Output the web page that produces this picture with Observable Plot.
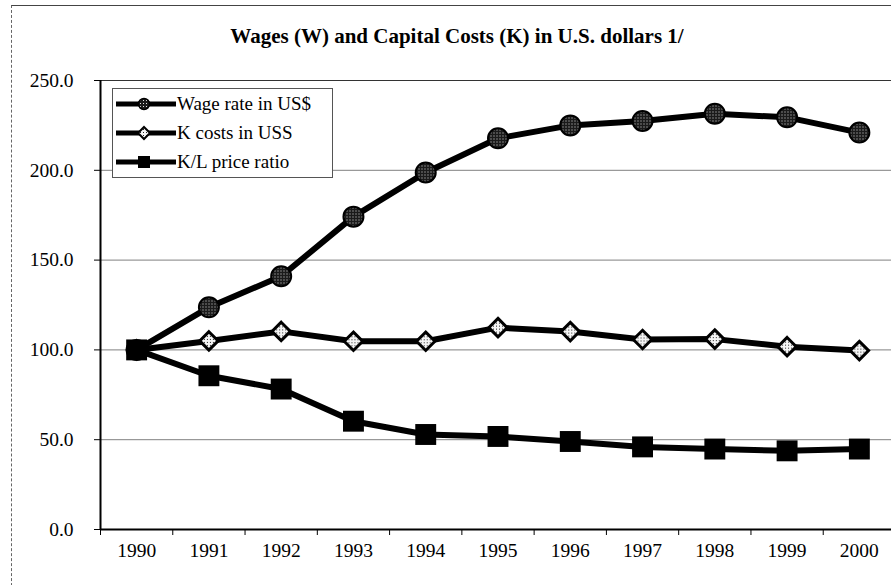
<!DOCTYPE html>
<html><head><meta charset="utf-8">
<script src="https://cdn.jsdelivr.net/npm/d3@7"></script>
<script src="https://cdn.jsdelivr.net/npm/@observablehq/plot@0.6"></script>
<style>
body{margin:0;background:#fff;font-family:"Liberation Serif","Times New Roman",serif;color:#000;}
#wrap{position:relative;width:891px;height:585px;overflow:hidden;background:#fff;}
#title{height:62px;box-sizing:border-box;padding-top:26px;padding-left:23px;text-align:center;font-weight:bold;font-size:21px;line-height:20px;}
#border{position:absolute;left:11px;top:5px;width:900px;height:600px;border-top:1px solid #444;border-left:1px dashed #666;pointer-events:none;}
#legend{position:absolute;left:112px;top:88px;width:219px;height:88px;border:1px solid #555;background:#fff;}
.row{height:29px;display:flex;align-items:center;font-size:19px;white-space:nowrap;}
.row svg{display:block;margin-left:2px;margin-right:0px;}
</style></head>
<body>
<svg width="0" height="0" style="position:absolute">
  <defs>
    <pattern id="stip" width="3" height="3" patternUnits="userSpaceOnUse">
      <rect width="3" height="3" fill="#1a1a1a"/><rect x="1" y="1" width="1" height="1" fill="#e0e0e0"/>
    </pattern>
    <pattern id="stip2" width="3" height="3" patternUnits="userSpaceOnUse">
      <rect width="3" height="3" fill="#f4f4f4"/><rect x="1" y="1" width="1" height="1" fill="#222"/>
    </pattern>
  </defs>
</svg>
<div id="wrap">
  <div id="border"></div>
  <div id="title">Wages (W) and Capital Costs (K) in U.S. dollars 1/</div>
  <div id="chart"></div>
  <div id="legend"></div>
</div>
<script>
const years = [1990,1991,1992,1993,1994,1995,1996,1997,1998,1999,2000];
const wage = [100,123.7,141,174.2,198.8,217.8,225,227.5,231.5,229.5,221];
const kcost = [100,105,110.3,104.8,104.8,112.4,110.2,105.8,106,101.8,99.6];
const klratio = [100,85.6,78.2,60.3,52.9,51.8,49,46,44.8,43.8,44.8];
const yTicks = [0,50,100,150,200,250];
const seriesNames = ["Wage rate in US$","K costs in USS","K/L price ratio"];

const toRows = vals => years.map((yr,i)=>({year:yr, value:vals[i]}));
const wageRows = toRows(wage), kRows = toRows(kcost), klRows = toRows(klratio);
const boundaries = years.map(y => y - 0.5);

const plot = Plot.plot({
  width: 891,
  height: 523,
  marginTop: 18,
  marginBottom: 56,
  marginLeft: 100,
  marginRight: 0,
  style: {fontFamily:'"Liberation Serif","Times New Roman",serif', fontSize:"19px", color:"#000", background:"transparent"},
  x: {type:"linear", domain:[years[0]-0.5, years[years.length-1]+0.5], range:[100, 895], label:null},
  y: {domain:[0,250], label:null},
  marks: [
    Plot.gridY(yTicks, {stroke:"#808080", strokeOpacity:1, strokeWidth:1}),
    Plot.ruleY([250], {stroke:"#333", strokeWidth:1}),
    Plot.axisY({ticks:yTicks, tickFormat:d=>d.toFixed(1), tickSize:6, tickPadding:21, fontSize:19.5, label:null}),
    Plot.axisX({ticks:years, tickFormat:d=>String(d), tickSize:0, tickPadding:14, fontSize:19.5, label:null}),
    Plot.axisX({ticks:boundaries, tickFormat:()=>"", tickSize:6, label:null}),
    Plot.ruleY([0], {stroke:"#000", strokeWidth:2}),
    Plot.ruleX([years[0]-0.5], {stroke:"#000", strokeWidth:2}),
    Plot.line(wageRows, {x:"year", y:"value", stroke:"#000", strokeWidth:6}),
    Plot.line(kRows, {x:"year", y:"value", stroke:"#000", strokeWidth:6}),
    Plot.line(klRows, {x:"year", y:"value", stroke:"#000", strokeWidth:6}),
    Plot.dot(wageRows, {x:"year", y:"value", r:10, fill:"url(#stip)", stroke:"#000", strokeWidth:2}),
    Plot.dot(kRows, {x:"year", y:"value", symbol:"diamond2", r:8.3, fill:"url(#stip2)", stroke:"#000", strokeWidth:3}),
    Plot.dot(klRows, {x:"year", y:"value", symbol:"square", r:11.8, fill:"#000", stroke:"none"})
  ]
});
document.getElementById("chart").appendChild(plot);

// legend
const markers = [
  '<circle cx="29" cy="8" r="5.5" fill="url(#stip)" stroke="#000" stroke-width="1.5"/>',
  '<path d="M29,2 L35,8 L29,14 L23,8 Z" fill="url(#stip2)" stroke="#000" stroke-width="2"/>',
  '<rect x="23" y="2" width="12" height="12" fill="#000"/>'
];
const leg = document.getElementById("legend");
seriesNames.forEach((name,i)=>{
  const row = document.createElement("div");
  row.className = "row";
  row.innerHTML = `<svg width="62" height="16"><line x1="1" y1="8" x2="61" y2="8" stroke="#000" stroke-width="5"/>${markers[i]}</svg><span>${name}</span>`;
  leg.appendChild(row);
});
</script>
</body></html>
